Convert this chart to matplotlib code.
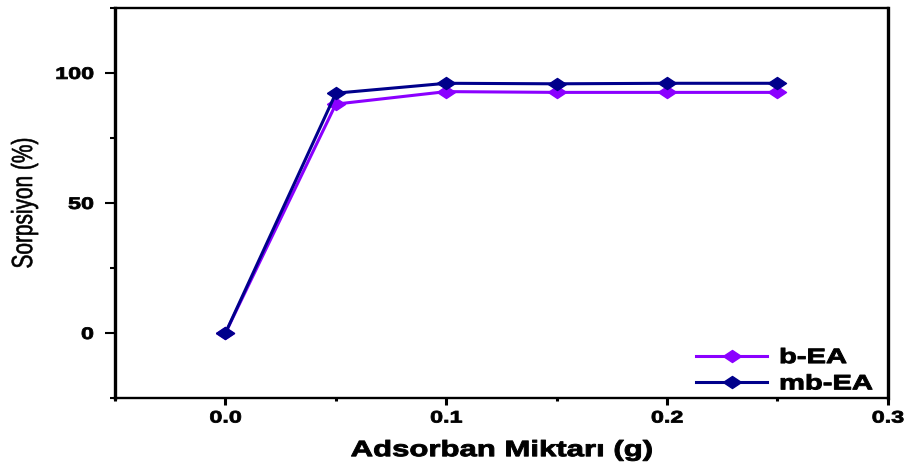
import matplotlib.pyplot as plt
from matplotlib.ticker import MultipleLocator, FormatStrFormatter
from matplotlib.patheffects import AbstractPathEffect
from matplotlib.transforms import Affine2D

plt.rcParams['font.family'] = ['Liberation Sans', 'DejaVu Sans']

miktar = [0.0, 0.05, 0.10, 0.15, 0.20, 0.25]
b_ea = [0.0, 88.0, 92.8, 92.5, 92.5, 92.5]
mb_ea = [0.0, 92.2, 96.0, 95.8, 96.0, 96.0]

SX = 1.4  # the original picture is stretched sideways


class StretchX(AbstractPathEffect):
    # widen text horizontally around one edge / its centre, optional outline to fatten it
    def __init__(self, sx=SX, anchor='center', stroke=0.0):
        super().__init__()
        self.sx = sx
        self.anchor = anchor
        self.stroke = stroke

    def draw_path(self, renderer, gc, tpath, affine, rgbFace=None):
        ext = tpath.transformed(affine).get_extents()
        if self.anchor == 'left':
            x0 = ext.x0
        elif self.anchor == 'right':
            x0 = ext.x1
        else:
            x0 = (ext.x0 + ext.x1) / 2
        aff = affine + Affine2D().translate(-x0, 0).scale(self.sx, 1).translate(x0, 0)
        if self.stroke > 0:
            gc0 = renderer.new_gc()
            gc0.copy_properties(gc)
            gc0.set_foreground(rgbFace)
            gc0.set_linewidth(self.stroke)
            renderer.draw_path(gc0, tpath, aff, rgbFace)
            gc0.restore()
        else:
            renderer.draw_path(gc, tpath, aff, rgbFace)


wide_diamond = [(-1.5, 0), (0, 1), (1.5, 0), (0, -1), (-1.5, 0)]

fig = plt.figure(figsize=(9.06, 4.62), dpi=100)
ax = fig.add_axes([0.127, 0.1385, 0.853, 0.8445])

ax.plot(miktar, b_ea, color='#8B00FF', marker=wide_diamond, markersize=13, lw=2.2, label='b-EA')
ax.plot(miktar, mb_ea, color='#00008B', marker=wide_diamond, markersize=13, lw=2.2, label='mb-EA')

ax.set_xlim(-0.05, 0.3)
ax.set_ylim(-25, 125)
ax.xaxis.set_major_locator(MultipleLocator(0.1))
ax.xaxis.set_minor_locator(MultipleLocator(0.05))
ax.yaxis.set_major_locator(MultipleLocator(50))
ax.yaxis.set_minor_locator(MultipleLocator(25))
ax.xaxis.set_major_formatter(FormatStrFormatter('%.1f'))
ax.tick_params(axis='x', which='major', direction='out', length=5, width=2.2, labelsize=12, pad=4)
ax.tick_params(axis='x', which='minor', direction='out', length=2, width=2.2)
ax.tick_params(axis='y', which='major', direction='out', length=7.5, width=1.5, labelsize=12, pad=8)
ax.tick_params(axis='y', which='minor', direction='out', length=3.5, width=1.5)
for lab in ax.get_xticklabels():
    lab.set_fontweight('bold')
    lab.set_path_effects([StretchX(anchor='center', stroke=0.6)])
for lab in ax.get_yticklabels():
    lab.set_fontweight('bold')
    lab.set_path_effects([StretchX(anchor='right', stroke=0.6)])
ax.spines['left'].set_linewidth(2.4)
ax.spines['right'].set_linewidth(2.4)
ax.spines['top'].set_linewidth(1.7)
ax.spines['bottom'].set_linewidth(1.7)

xl = ax.set_xlabel('Adsorban Miktarı (g)', fontsize=16, fontweight='bold')
xl.set_path_effects([StretchX(stroke=0.7)])
ax.xaxis.set_label_coords(0.5, -0.108)
yl = ax.set_ylabel('Sorpsiyon (%)', fontsize=15)
yl.set_path_effects([StretchX(stroke=0.4)])
ax.yaxis.set_label_coords(-0.105, 0.5)

leg = ax.legend(loc='upper left', bbox_to_anchor=(0.752, 0.128), frameon=False,
                prop={'size': 15, 'weight': 'bold'}, borderaxespad=0, borderpad=0,
                handlelength=3.4, handletextpad=0.6, labelspacing=0.35)
for t in leg.get_texts():
    t.set_path_effects([StretchX(anchor='left', stroke=0.7)])

fig.savefig('out.png', dpi=100)
